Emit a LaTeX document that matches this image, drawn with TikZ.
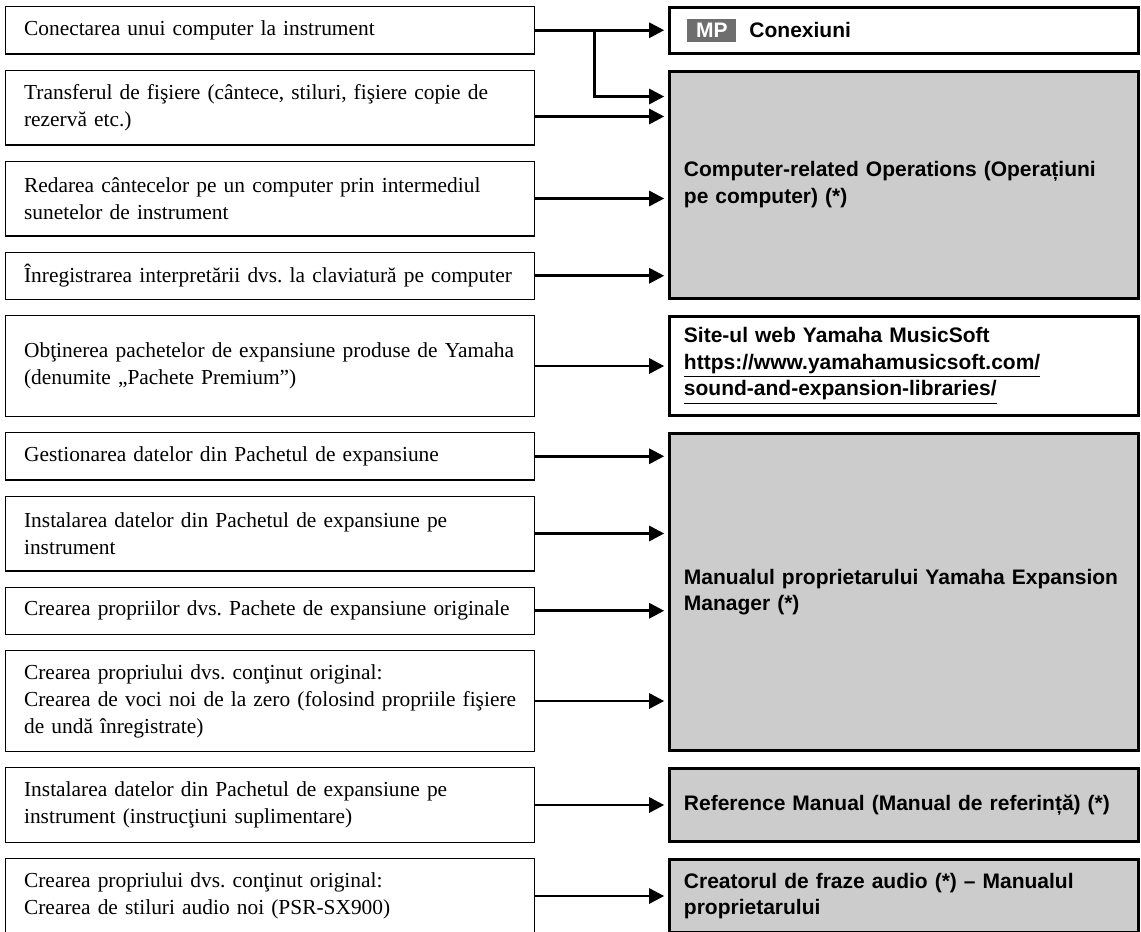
\documentclass[tikz,border=0pt]{standalone}
\usepackage{fontspec}
\setmainfont{Liberation Serif}
\newfontfamily\headsans{Liberation Sans}
\usetikzlibrary{arrows.meta}
\usetikzlibrary{positioning}
\definecolor{mangray}{HTML}{CCCCCC}
\definecolor{mpgray}{HTML}{6E6E6E}

\begin{document}
\begin{tikzpicture}[node distance=7.5pt,
    task/.style={draw, line width=0.6pt, text width=246pt, inner xsep=9.25pt, inner ysep=2pt, align=left, minimum height=23.65pt, font={\fontsize{10.7}{13.5}\selectfont\frenchspacing\hyphenpenalty=10000}, execute at begin node={\rightskip=-12pt plus 1fil}},
    two/.style={minimum height=37.4pt},
    three/.style={minimum height=50.4pt},
    manual/.style={draw, line width=1.5pt, inner sep=0pt, text width=220pt, align=left, minimum width=234.25pt, anchor=north west, font={\headsans\bfseries\fontsize{10.5}{13.25}\selectfont}},
    grayfill/.style={fill=mangray},
    link/.style={-{Triangle[length=7.5pt,width=7.5pt]}, line width=1.4pt, shorten >=2pt}]
    \useasboundingbox (-2.5pt,3pt) rectangle (568pt,-463pt);

    \node (t1) [task, anchor=north west] at (0,0) {Conectarea unui computer la instrument};
    \node (t2) [task, two, below=of t1] {Transferul de fişiere (cântece, stiluri, fişiere copie de\\ rezervă etc.)};
    \node (t3) [task, two, below=of t2] {Redarea cântecelor pe un computer prin intermediul\\ sunetelor de instrument};
    \node (t4) [task, below=of t3] {Înregistrarea interpretării dvs. la claviatură pe computer};
    \node (t5) [task, three, below=of t4] {Obţinerea pachetelor de expansiune produse de Yamaha\\ (denumite „Pachete Premium”)};
    \node (t6) [task, below=of t5] {Gestionarea datelor din Pachetul de expansiune};
    \node (t7) [task, two, below=of t6] {Instalarea datelor din Pachetul de expansiune pe\\ instrument};
    \node (t8) [task, below=of t7] {Crearea propriilor dvs. Pachete de expansiune originale};
    \node (t9) [task, three, below=of t8] {Crearea propriului dvs. conţinut original:\\ Crearea de voci noi de la zero (folosind propriile fişiere\\ de undă înregistrate)};
    \node (t10) [task, two, below=of t9] {Instalarea datelor din Pachetul de expansiune pe\\ instrument (instrucţiuni suplimentare)};
    \node (t11) [task, two, below=of t10] {Crearea propriului dvs. conţinut original:\\ Crearea de stiluri audio noi (PSR-SX900)};

    % right column
    \coordinate (cl) at ([xshift=66.5pt]t1.east);
    \node (conex) [manual, minimum height=22.75pt] at (cl |- t1.north) {\hspace*{1.75pt}{\fboxsep=2.25pt\colorbox{mpgray}{\makebox[20pt]{\color{white}MP}}}\hspace{6.5pt}Conexiuni};
    \node (comp) [manual, grayfill, minimum height=113.75pt] at (cl |- t2.north) {Computer-related Operations (Operațiuni\\ pe computer) (*)};
    \node (site) [manual, minimum height=49.5pt] at (cl |- t5.north) {Site-ul web Yamaha MusicSoft\\ \underline{https://www.yamahamusicsoft.com/}\\ \underline{sound-and-expansion-libraries/}};
    \node (expmgr) [manual, grayfill, minimum height=158.5pt] at (cl |- t6.north) {Manualul proprietarului Yamaha Expansion\\ Manager (*)};
    \node (refman) [manual, grayfill, minimum height=36.5pt] at (cl |- t10.north) {Reference Manual (Manual de referință) (*)};
    \node (creator) [manual, grayfill, minimum height=36.5pt] at (cl |- t11.north) {Creatorul de fraze audio (*) – Manualul\\ proprietarului};

    \coordinate (split) at ([xshift=29.5pt]t1.east);
    \draw[link] (t1.east) -- (conex.west);
    \draw[link] (split) |- ([yshift=5.5pt]t2.east -| comp.west);
    \draw[link] ([yshift=-4.5pt]t2.east) -- ([yshift=-4.5pt]t2.east -| comp.west);
    \draw[link] (t3.east) -- (t3.east -| comp.west);
    \draw[link] (t4.east) -- (t4.east -| comp.west);
    \draw[link] (t5.east) -- (t5.east -| site.west);
    \draw[link] (t6.east) -- (t6.east -| expmgr.west);
    \draw[link] (t7.east) -- (t7.east -| expmgr.west);
    \draw[link] (t8.east) -- (t8.east -| expmgr.west);
    \draw[link] (t9.east) -- (t9.east -| expmgr.west);
    \draw[link] (t10.east) -- (t10.east -| refman.west);
    \draw[link] (t11.east) -- (t11.east -| creator.west);
\end{tikzpicture}
\end{document}
